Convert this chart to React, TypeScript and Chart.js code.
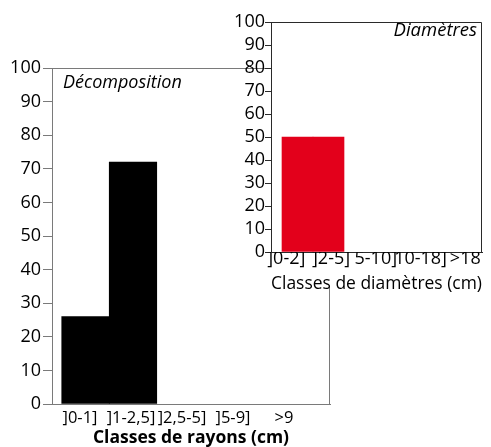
import React, { useEffect, useRef } from 'react';
import { Chart, registerables } from 'chart.js';

Chart.register(...registerables);

const WIDTH = 491;
const HEIGHT = 447;
const FONT = "'Open Sans', 'Noto Sans', sans-serif";

// ---- Data: main chart (radius classes) ----
const rayonClasses = [']0-1]', ']1-2,5]', ']2,5-5]', ']5-9]', '>9'];
const rayonValues = [26, 72, 0, 0, 0];
const rayonPanelLabel = 'Décomposition';
const rayonAxisTitle = 'Classes de rayons (cm)';

// ---- Data: inset chart (diameter classes) ----
const diamClasses = [']0-2]', ']2-5]', '5-10]', '10-18]', '>18'];
const diamValues = [50, 50, 0, 0, 0];
const diamPanelLabel = 'Diamètres';
const diamAxisTitle = 'Classes de diamètres (cm)';

// ---- Shared y axis ----
const yMin = 0;
const yMax = 100;
const yStep = 10;

type Spec = {
  classes: string[];
  values: number[];
  color: string;
  panelLabel: string;
  panelAlign: 'left' | 'right';
  panelSize: number;
  panelDx: number;
  panelDy: number;
  axisTitle: string;
  titleWeight: string;
  titleSize: number;
  titleLH: number;
  titlePadBottom: number;
  padding: { left: number; right: number; top: number; bottom: number };
  yWidth: number;
  xHeight: number;
  tickLen: number;
  yTickPad: number;
  xTickPad: number;
  xTickLH: number;
  xFontSize: number;
  fontSize: number;
  labelRange: [number, number];
  barRange: [number, number];
  lineColor: string;
  cover: number;
};

const framePlugin = {
  id: 'frame',
  beforeDraw(chart: any, _args: any, opts: any) {
    if (!opts.cover) return;
    const { ctx, chartArea: a } = chart;
    ctx.save();
    ctx.fillStyle = '#ffffff';
    ctx.fillRect(Math.round(a.left), 0, chart.width - Math.round(a.left), opts.cover);
    ctx.restore();
  },
  afterDraw(chart: any, _args: any, opts: any) {
    const { ctx, chartArea: a } = chart;
    ctx.save();
    ctx.strokeStyle = opts.color;
    ctx.lineWidth = 1;
    const l = Math.round(a.left) + 0.5;
    const t = Math.round(a.top) + 0.5;
    const r = Math.round(a.right) - 0.5;
    const b = Math.round(a.bottom) + 0.5;
    ctx.beginPath();
    ctx.moveTo(l, t);
    ctx.lineTo(r, t);
    ctx.lineTo(r, b);
    ctx.stroke();
    ctx.font = `italic ${opts.size}px ${FONT}`;
    ctx.fillStyle = '#000';
    ctx.textBaseline = 'middle';
    ctx.textAlign = opts.align;
    const x = opts.align === 'left' ? a.left + opts.dx : a.right - opts.dx;
    ctx.fillText(opts.text, x, a.top + opts.dy);
    ctx.restore();
  },
};

function buildConfig(s: Spec): any {
  const setTicks = (scale: any) => {
    scale.ticks = s.classes.map((_, i) => ({ value: i }));
  };
  return {
    type: 'bar',
    data: {
      datasets: [
        {
          data: s.values.map((v, i) => ({ x: i, y: v })).filter((p) => p.y > 0),
          backgroundColor: s.color,
          borderWidth: 0,
          xAxisID: 'xb',
          yAxisID: 'y',
          categoryPercentage: 1,
          barPercentage: 1,
        },
      ],
    },
    options: {
      responsive: false,
      maintainAspectRatio: false,
      animation: false,
      devicePixelRatio: 1,
      layout: { padding: s.padding },
      plugins: {
        legend: { display: false },
        tooltip: { enabled: false },
        frame: {
          color: s.lineColor,
          text: s.panelLabel,
          align: s.panelAlign,
          size: s.panelSize,
          dx: s.panelDx,
          dy: s.panelDy,
          cover: s.cover,
        },
      },
      scales: {
        x: {
          type: 'linear',
          position: 'bottom',
          offset: false,
          min: s.labelRange[0],
          max: s.labelRange[1],
          afterBuildTicks: setTicks,
          afterFit: (scale: any) => {
            scale.height = s.xHeight;
          },
          ticks: {
            autoSkip: false,
            maxRotation: 0,
            minRotation: 0,
            color: '#000',
            padding: s.xTickPad,
            font: { family: FONT, size: s.xFontSize, lineHeight: s.xTickLH },
            callback: (v: number) => s.classes[v] ?? '',
          },
          grid: { display: false, drawTicks: false, offset: false },
          border: { display: true, color: s.lineColor, width: 1 },
          title: {
            display: true,
            text: s.axisTitle,
            color: '#000',
            padding: { top: 0, bottom: s.titlePadBottom },
            font: { family: FONT, size: s.titleSize, weight: s.titleWeight, lineHeight: s.titleLH },
          },
        },
        xb: {
          type: 'linear',
          axis: 'x',
          display: false,
          offset: false,
          grid: { offset: false },
          min: s.barRange[0],
          max: s.barRange[1],
          afterBuildTicks: setTicks,
        },
        y: {
          type: 'linear',
          position: 'left',
          min: yMin,
          max: yMax,
          afterFit: (scale: any) => {
            scale.width = s.yWidth;
          },
          ticks: {
            stepSize: yStep,
            autoSkip: false,
            color: '#000',
            padding: s.yTickPad,
            font: { family: FONT, size: s.fontSize },
          },
          grid: {
            drawOnChartArea: false,
            drawTicks: true,
            tickLength: s.tickLen,
            color: s.lineColor,
          },
          border: { display: true, color: s.lineColor, width: 1 },
        },
      },
    },
    plugins: [framePlugin],
  };
}

const mainSpec: Spec = {
  classes: rayonClasses,
  values: rayonValues,
  color: '#000000',
  panelLabel: rayonPanelLabel,
  panelAlign: 'left',
  panelSize: 18,
  panelDx: 11,
  panelDy: 15,
  axisTitle: rayonAxisTitle,
  titleWeight: 'bold',
  titleSize: 17.5,
  titleLH: 1.05,
  titlePadBottom: 0,
  padding: { left: 0, right: 161, top: 68, bottom: 0 },
  yWidth: 52,
  xHeight: 43,
  tickLen: 9,
  yTickPad: 2,
  xTickPad: 4,
  xTickLH: 1.2,
  xFontSize: 16.5,
  fontSize: 18,
  labelRange: [-0.549, 4.902],
  barRange: [-0.705, 5.147],
  lineColor: '#7a7a7a',
  cover: 0,
};

const insetSpec: Spec = {
  classes: diamClasses,
  values: diamValues,
  color: '#e3001b',
  panelLabel: diamPanelLabel,
  panelAlign: 'right',
  panelSize: 18.5,
  panelDx: 5,
  panelDy: 9,
  axisTitle: diamAxisTitle,
  titleWeight: 'normal',
  titleSize: 18,
  titleLH: 1.2,
  titlePadBottom: 1,
  padding: { left: 225, right: 9, top: 22, bottom: 151 },
  yWidth: 46,
  xHeight: 44,
  tickLen: 6,
  yTickPad: 0,
  xTickPad: -2,
  xTickLH: 1,
  xFontSize: 18,
  fontSize: 18,
  labelRange: [-0.342, 4.373],
  barRange: [-0.855, 5.952],
  lineColor: '#2a2a2a',
  cover: 287,
};

function Panel({ spec, z }: { spec: Spec; z: number }) {
  const ref = useRef<HTMLCanvasElement>(null);
  useEffect(() => {
    const chart = new Chart(ref.current as HTMLCanvasElement, buildConfig(spec));
    return () => chart.destroy();
  }, [spec]);
  return (
    <canvas
      ref={ref}
      width={WIDTH}
      height={HEIGHT}
      style={{ position: 'absolute', left: 0, top: 0, width: WIDTH, height: HEIGHT, zIndex: z }}
    />
  );
}

export default function App() {
  return (
    <div
      style={{
        position: 'fixed',
        left: 0,
        top: 0,
        width: WIDTH,
        height: HEIGHT,
        background: '#ffffff',
        overflow: 'hidden',
      }}
    >
      <Panel spec={mainSpec} z={1} />
      <Panel spec={insetSpec} z={2} />
    </div>
  );
}
